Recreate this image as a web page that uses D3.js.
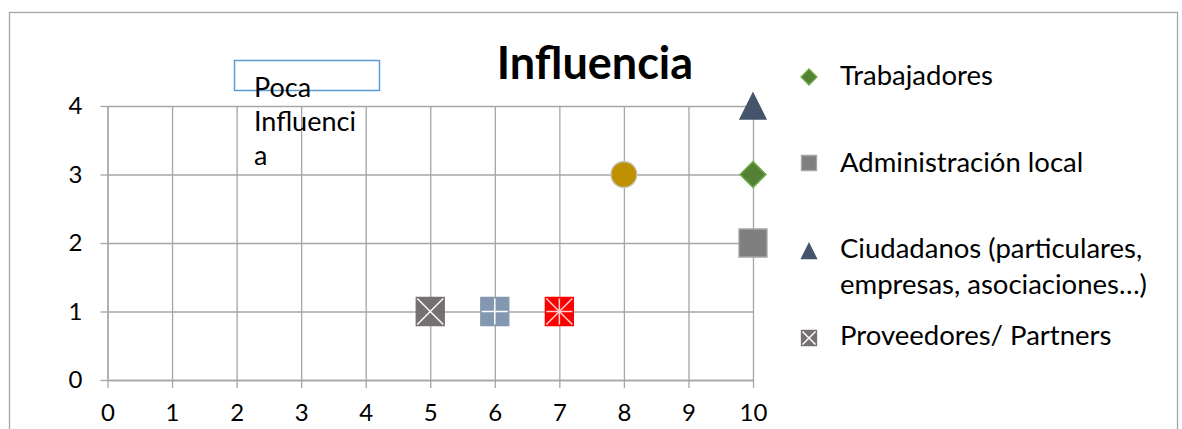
<!DOCTYPE html>
<html>
<head>
<meta charset="utf-8">
<script src="https://cdn.jsdelivr.net/npm/d3@7"></script>
<style>
  body { margin: 0; background: #fff; }
  svg { display: block; font-family: Lato, "Open Sans", sans-serif; }
</style>
</head>
<body>
<svg id="chart" width="1182" height="429"></svg>
<script>
// series data
var names = ["Trabajadores", "Administración local", "Ciudadanos (particulares, empresas, asociaciones…)", "Proveedores/ Partners", "Serie 5", "Serie 6", "Serie 7"];
var xValues = [10, 10, 10, 5, 6, 7, 8];
var yValues = [3, 2, 4, 1, 1, 1, 3];
var shapes = ["diamond", "square", "triangle", "squareX", "squarePlus", "squareStar", "circle"];
var fills = ["#548235", "#7f7f7f", "#44546a", "#767171", "#8497b0", "#ff0000", "#bf9000"];
var strokes = ["#70ad47", "#a5a5a5", "#44546a", "#767171", "#8497b0", "#ff0000", "#c9c9c9"];
var xTicks = [0, 1, 2, 3, 4, 5, 6, 7, 8, 9, 10];
var yTicks = [0, 1, 2, 3, 4];

var width = 1182, height = 429;
var margin = { top: 106, right: 429, bottom: 49, left: 107.5 };

var svg = d3.select("#chart");

// outer chart border
svg.append("rect")
    .attr("x", 9.5).attr("y", 12.5)
    .attr("width", 1168).attr("height", 440)
    .attr("fill", "none")
    .attr("stroke", "#a6a6a6")
    .attr("stroke-width", 1.3);

var x = d3.scaleLinear()
    .domain([0, 10])
    .range([margin.left, width - margin.right]);

var y = d3.scaleLinear()
    .domain([0, 4])
    .range([height - margin.bottom, margin.top]);

var gridColor = "#a6a6a6";

// gridlines
svg.append("g")
    .attr("transform", `translate(0,${y(0)})`)
    .call(d3.axisBottom(x).tickValues(xTicks).tickSize(-(y(0) - y(4))).tickFormat(""))
    .call(g => g.select(".domain").remove())
    .call(g => g.selectAll("line").attr("stroke", gridColor).attr("stroke-width", 1.3));

svg.append("g")
    .attr("transform", `translate(${x(0)},0)`)
    .call(d3.axisLeft(y).tickValues(yTicks).tickSize(-(x(10) - x(0))).tickFormat(""))
    .call(g => g.select(".domain").remove())
    .call(g => g.selectAll("line").attr("stroke", gridColor).attr("stroke-width", 1.3));

// axes with outside ticks and labels
svg.append("g")
    .attr("transform", `translate(0,${y(0)})`)
    .call(d3.axisBottom(x).tickValues(xTicks).tickFormat(d3.format("d"))
        .tickSizeInner(8).tickSizeOuter(0).tickPadding(16))
    .call(g => g.select(".domain").attr("stroke", gridColor).attr("stroke-width", 1.3))
    .call(g => g.selectAll("line").attr("stroke", gridColor).attr("stroke-width", 1.3))
    .call(g => g.selectAll("text").attr("font-size", "24px").attr("fill", "#000")
        .attr("font-family", "Lato, sans-serif"));

svg.append("g")
    .attr("transform", `translate(${x(0)},0)`)
    .call(d3.axisLeft(y).tickValues(yTicks).tickFormat(d3.format("d"))
        .tickSizeInner(7).tickSizeOuter(0).tickPadding(18))
    .call(g => g.select(".domain").attr("stroke", gridColor).attr("stroke-width", 1.3))
    .call(g => g.selectAll("line").attr("stroke", gridColor).attr("stroke-width", 1.3))
    .call(g => g.selectAll("text").attr("font-size", "24px").attr("fill", "#000")
        .attr("font-family", "Lato, sans-serif"));

// title
svg.append("text")
    .attr("x", 595).attr("y", 79)
    .attr("text-anchor", "middle")
    .attr("font-size", "45px")
    .attr("font-weight", "bold")
    .attr("fill", "#000")
    .text("Influencia");

// text box "Poca Influencia"
svg.append("rect")
    .attr("x", 234.5).attr("y", 60.5)
    .attr("width", 145).attr("height", 30)
    .attr("fill", "none")
    .attr("stroke", "#5b9bd5")
    .attr("stroke-width", 1.5);

svg.append("text")
    .attr("x", 254).attr("y", 97)
    .attr("font-size", "27px")
    .attr("fill", "#000")
    .selectAll("tspan")
    .data(["Poca", "Influenci", "a"])
    .join("tspan")
    .attr("x", 254)
    .attr("dy", (d, i) => i === 0 ? 0 : 34)
    .text(d => d);

// marker shapes
function shapePath(shape, s) {
    var h = s / 2;
    if (shape === "diamond") return `M0,${-h}L${h},0L0,${h}L${-h},0Z`;
    if (shape === "triangle") return `M0,${-h}L${h},${h}L${-h},${h}Z`;
    if (shape === "circle") return d3.symbol(d3.symbolCircle, Math.PI * h * h)();
    return `M${-h},${-h}H${h}V${h}H${-h}Z`;
}

function drawMarker(g, i, s) {
    g.append("path")
        .attr("d", shapePath(shapes[i], s))
        .attr("fill", fills[i])
        .attr("stroke", strokes[i])
        .attr("stroke-width", 1.3);
    var h = s / 2 - 1;
    var lines = [];
    if (shapes[i] === "squareX" || shapes[i] === "squareStar")
        lines.push(`M${-h},${-h}L${h},${h}`, `M${h},${-h}L${-h},${h}`);
    if (shapes[i] === "squarePlus" || shapes[i] === "squareStar")
        lines.push(`M0,${-h}V${h}`, `M${-h},0H${h}`);
    lines.forEach(l => g.append("path")
        .attr("d", l)
        .attr("stroke", shapes[i] === "squareStar" ? "#ffd0d0" : "#fff")
        .attr("stroke-width", 1.5));
}

var points = names.map((n, i) => i);
svg.append("g")
    .selectAll("g")
    .data(points)
    .join("g")
    .attr("transform", i => `translate(${x(xValues[i])},${y(yValues[i])})`)
    .each(function (i) {
        var s = ["diamond", "triangle", "circle"].includes(shapes[i]) ? 26 : 28;
        drawMarker(d3.select(this), i, s);
    });

// legend
var legendRows = [
    { i: 0, cy: 77, lines: ["Trabajadores"], base: 85 },
    { i: 1, cy: 163, lines: ["Administración local"], base: 172 },
    { i: 2, cy: 251, lines: ["Ciudadanos (particulares,", "empresas, asociaciones…)"], base: 258 },
    { i: 3, cy: 338, lines: ["Proveedores/ Partners"], base: 345 }
];

var legend = svg.append("g");
legendRows.forEach(r => {
    var g = legend.append("g").attr("transform", `translate(809,${r.cy})`);
    var s = shapes[r.i] === "diamond" ? 16 : 15;
    drawMarker(g, r.i, s);
    legend.append("text")
        .attr("x", 840).attr("y", r.base)
        .attr("font-size", "27.5px")
        .attr("fill", "#000")
        .selectAll("tspan")
        .data(r.lines)
        .join("tspan")
        .attr("x", 840)
        .attr("dy", (d, k) => k === 0 ? 0 : 36)
        .text(d => d);
});
</script>
</body>
</html>
